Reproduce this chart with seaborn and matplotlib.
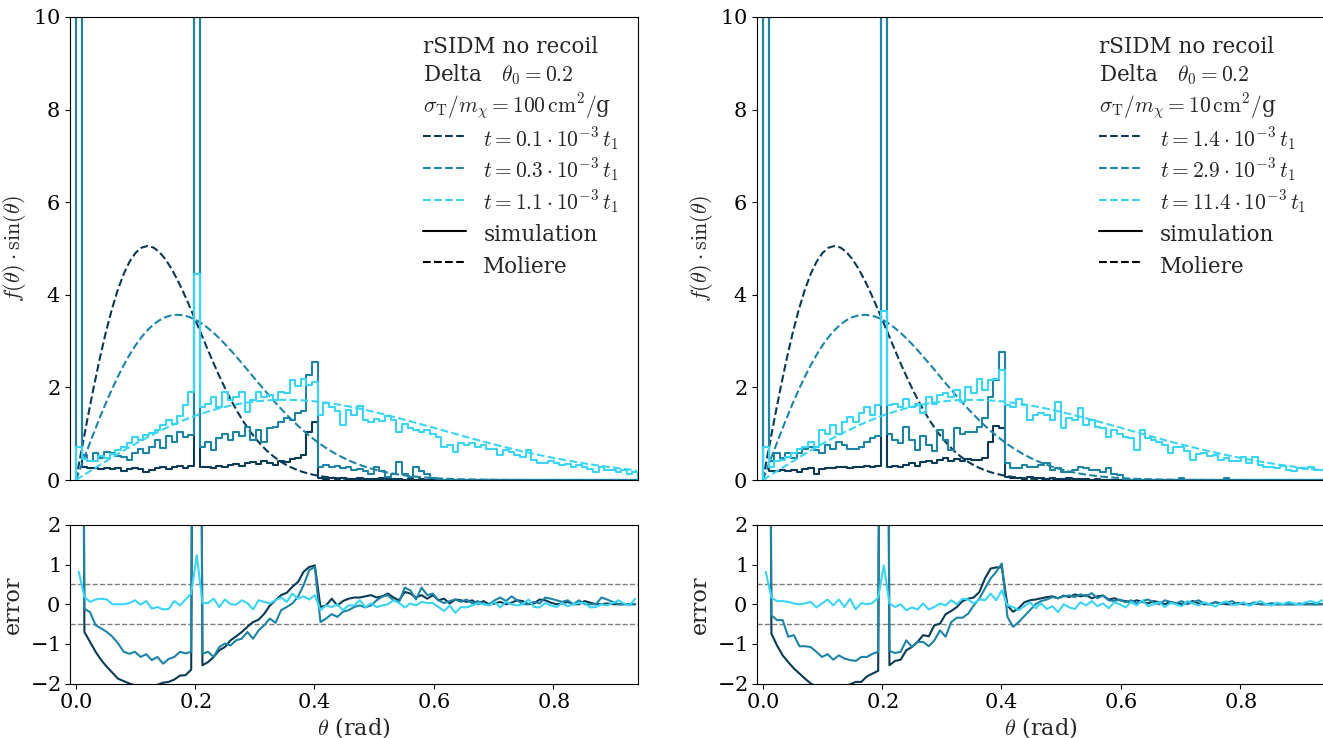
import numpy as np
import matplotlib
matplotlib.use("Agg")
import matplotlib.pyplot as plt
import seaborn as sns
from matplotlib.lines import Line2D

# simulation histogram binning (100 bins up to 0.3 pi)
edges = np.linspace(0, 0.3 * np.pi, 101)
centers = 0.5 * (edges[:-1] + edges[1:])
theta_fine = np.linspace(0, 0.94, 95)   # 0.01 rad grid for the narrow Moliere curves
theta_mol = np.linspace(0, 0.94, 48)    # 0.02 rad grid for the broad one

labels_left = [r"$t=0.1\cdot10^{-3}\,t_1$", r"$t=0.3\cdot10^{-3}\,t_1$", r"$t=1.1\cdot10^{-3}\,t_1$"]
labels_right = [r"$t=1.4\cdot10^{-3}\,t_1$", r"$t=2.9\cdot10^{-3}\,t_1$", r"$t=11.4\cdot10^{-3}\,t_1$"]

# ---- left column: sigma/m = 100 cm^2/g ----
hist_dark_l = ([40.0]
    + [0.27, 0.26, 0.25, 0.24, 0.26, 0.23, 0.25, 0.20, 0.23, 0.26, 0.24, 0.17, 0.22, 0.25, 0.28, 0.24, 0.28, 0.30, 0.26, 0.31]
    + [40.0]
    + [0.27, 0.28, 0.26, 0.30, 0.29, 0.33, 0.35, 0.31, 0.36, 0.38, 0.34, 0.40, 0.37, 0.33, 0.41, 0.38, 0.45, 0.47, 0.55, 1.04, 1.26]
    + [0.05, 0.03, 0.04, 0.02, 0.05, 0.03, 0.02, 0.04, 0.03, 0.02, 0.03, 0.05, 0.02, 0.03, 0.02, 0.01, 0.02, 0.01, 0.02, 0.01, 0.01]
    + [0.0] * 36)
hist_mid_l = ([40.0]
    + [0.54, 0.40, 0.58, 0.47, 0.61, 0.58, 0.52, 0.50, 0.43, 0.58, 0.68, 0.58, 0.72, 0.86, 0.70, 0.94, 0.83, 1.04, 0.93, 0.97]
    + [40.0]
    + [0.72, 0.83, 0.65, 0.90, 1.00, 0.86, 1.04, 0.94, 1.15, 0.86, 1.08, 0.83, 1.12, 1.15, 1.26, 1.33, 1.30, 1.44, 1.50, 2.27, 2.55]
    + [0.29, 0.32, 0.27, 0.30, 0.25, 0.27, 0.22, 0.24, 0.19, 0.14, 0.29, 0.19, 0.07, 0.14, 0.38, 0.14, 0.07, 0.29, 0.19, 0.14, 0.05]
    + [0.0] * 36)
hist_light_l = ([0.72]
    + [0.45, 0.40, 0.42, 0.52, 0.47, 0.56, 0.65, 0.72, 0.80, 0.92, 0.86, 0.98, 1.02, 1.08, 1.18, 1.30, 1.20, 1.38, 1.62, 1.90]
    + [4.45]
    + [1.58, 1.65, 1.80, 1.58, 1.91, 1.73, 1.80, 1.91, 1.47, 1.73, 1.91, 1.80, 1.84, 1.73, 1.91, 1.87, 2.16, 2.02, 2.19, 2.05, 2.12]
    + [1.40, 1.66, 1.58, 1.48, 1.19, 1.51, 1.40, 1.60, 1.30, 1.26, 1.31, 1.28, 1.38, 1.30, 1.04, 1.22, 1.12, 1.08, 1.04, 1.08,
       1.00, 0.93, 0.72, 0.76, 0.61, 0.80, 0.76, 0.79, 0.72, 0.76, 0.68, 0.68, 0.54, 0.65, 0.61, 0.54, 0.50, 0.65, 0.43, 0.37,
       0.36, 0.40, 0.37, 0.32, 0.34, 0.29, 0.32, 0.27, 0.23, 0.18, 0.27, 0.22, 0.22, 0.18, 0.22, 0.13, 0.18])

err_dark_l = ([30.0]
    + [-0.70, -0.95, -1.20, -1.41, -1.58, -1.73, -1.88, -1.94, -2.00, -2.05, -2.10, -2.12, -2.10, -2.03, -1.98, -1.96, -1.90, -1.80, -1.79, -1.65]
    + [30.0]
    + [-1.54, -1.46, -1.33, -1.16, -1.08, -0.91, -0.81, -0.70, -0.57, -0.45, -0.39, -0.24, -0.03, 0.10, 0.23, 0.29, 0.44, 0.56, 0.82, 0.94, 0.98]
    + [-0.07, -0.03, 0.14, -0.03, 0.08, 0.14, 0.17, 0.17, 0.20, 0.23, 0.17, 0.20, 0.27, 0.17, 0.10, 0.31, 0.27, 0.17]
    + [0.23, 0.14, 0.23, 0.10, 0.14, 0.02, 0.12, 0.10, 0.06, 0.10, 0.00, 0.08, 0.00, 0.02, 0.06, 0.00, 0.04, 0.10, 0.08, 0.00,
       0.02, 0.12, 0.10, 0.04, 0.00, 0.02, 0.06, 0.00, 0.00, 0.08, 0.04, 0.00, 0.00, 0.02, 0.00, 0.00, 0.00, 0.00, 0.00])
err_mid_l = ([30.0]
    + [-0.11, -0.20, -0.53, -0.61, -0.70, -0.82, -0.99, -1.20, -1.25, -1.20, -1.33, -1.26, -1.41, -1.33, -1.50, -1.38, -1.33, -1.20, -1.24, -1.20]
    + [30.0]
    + [-1.25, -1.20, -1.33, -1.08, -0.99, -1.04, -0.91, -0.87, -0.70, -0.87, -0.66, -0.53, -0.36, -0.47, -0.15, -0.07, 0.02, 0.19, 0.48, 0.86, 0.94]
    + [-0.45, -0.36, -0.25, -0.32, -0.19, -0.15, -0.07, -0.03, -0.08, -0.03, 0.10, 0.19, 0.23, 0.10, 0.06, 0.42, 0.35, 0.12, 0.42, 0.23,
       0.27, 0.10, 0.03, 0.08, 0.12, 0.06, 0.12, 0.02, 0.08, 0.00, 0.00, 0.10, 0.17, 0.08, 0.20, 0.10, 0.00, 0.00, 0.06, 0.02,
       0.17, 0.14, 0.10, 0.06, 0.10, 0.00, 0.10, 0.00, 0.00, 0.00, 0.17, 0.12, 0.06, 0.00, 0.00, 0.00, 0.00])
err_light_l = ([0.82]
    + [0.19, 0.06, 0.12, 0.14, 0.12, 0.00, 0.00, 0.00, 0.03, 0.10, -0.01, 0.08, -0.11, -0.07, -0.13, -0.12, 0.08, -0.03, 0.12, 0.27]
    + [1.24]
    + [0.03, 0.03, 0.14, -0.07, 0.12, 0.00, -0.01, 0.10, 0.03, -0.13, 0.10, 0.06, 0.02, 0.10, 0.17, 0.06, 0.27, 0.14, 0.20, 0.12, 0.23]
    + [-0.15, -0.03, -0.07, 0.00, -0.15, -0.03, -0.03, 0.10, -0.07, 0.02, -0.07, -0.03, 0.00, 0.10, 0.03, -0.08, 0.02, -0.03, 0.06, 0.03,
       0.03, -0.07, -0.17, -0.03, -0.22, -0.07, -0.08, -0.03, 0.02, 0.00, -0.03, 0.06, -0.08, 0.06, 0.00, -0.03, 0.00, 0.12, -0.07, -0.08,
       0.03, -0.03, -0.07, 0.03, -0.05, 0.00, 0.03, 0.03, -0.08, -0.07, 0.00, -0.03, 0.03, 0.10, 0.02, -0.03, 0.14])

# ---- right column: sigma/m = 10 cm^2/g ----
hist_dark_r = ([40.0]
    + [0.20, 0.19, 0.21, 0.19, 0.22, 0.18, 0.23, 0.25, 0.14, 0.24, 0.25, 0.26, 0.27, 0.28, 0.25, 0.27, 0.29, 0.30, 0.28, 0.31]
    + [40.0]
    + [0.28, 0.30, 0.27, 0.33, 0.36, 0.31, 0.39, 0.41, 0.37, 0.44, 0.48, 0.42, 0.46, 0.40, 0.45, 0.43, 0.44, 0.47, 0.83, 1.17, 1.13]
    + [0.06, 0.04, 0.05, 0.03, 0.06, 0.04, 0.05, 0.03, 0.04, 0.02, 0.03, 0.04, 0.02, 0.02, 0.03, 0.01, 0.02, 0.01, 0.01, 0.01, 0.01]
    + [0.0] * 36)
hist_mid_r = ([40.0]
    + [0.40, 0.58, 0.47, 0.58, 0.47, 0.58, 0.68, 0.72, 0.65, 0.58, 0.76, 0.68, 0.83, 0.76, 0.68, 0.68, 0.72, 0.83, 0.90, 0.95]
    + [40.0]
    + [1.00, 0.86, 0.79, 1.15, 0.86, 0.65, 0.94, 0.76, 0.63, 1.08, 0.86, 0.65, 1.12, 1.00, 1.04, 1.04, 1.15, 1.33, 1.80, 2.16, 2.77]
    + [0.36, 0.25, 0.25, 0.32, 0.29, 0.29, 0.32, 0.36, 0.22, 0.25, 0.18, 0.18, 0.22, 0.29, 0.25, 0.22, 0.22, 0.18, 0.25, 0.14, 0.10]
    + [0.0] * 10 + [0.05] + [0.0] * 7 + [0.04] + [0.0] * 17)
hist_light_r = ([0.72]
    + [0.29, 0.40, 0.43, 0.50, 0.58, 0.68, 0.72, 0.83, 0.72, 1.08, 1.00, 1.19, 1.00, 1.26, 1.37, 1.26, 1.44, 1.58, 1.40, 1.62]
    + [3.65]
    + [1.62, 1.65, 1.58, 1.76, 1.58, 1.65, 1.44, 1.80, 1.65, 1.83, 1.87, 1.80, 1.94, 1.69, 2.01, 1.87, 2.19, 1.94, 2.16, 2.19, 2.37]
    + [1.62, 1.58, 1.76, 1.62, 1.30, 1.40, 1.44, 1.40, 1.30, 1.69, 1.12, 1.33, 1.30, 1.55, 1.19, 1.30, 1.15, 1.12, 0.93, 1.08,
       1.00, 0.93, 0.90, 0.65, 1.08, 0.90, 0.86, 0.83, 0.76, 0.58, 0.72, 0.71, 0.63, 0.43, 0.56, 0.59, 0.52, 0.54, 0.43, 0.47,
       0.42, 0.40, 0.49, 0.36, 0.49, 0.32, 0.29, 0.27, 0.25, 0.30, 0.22, 0.20, 0.25, 0.23, 0.27, 0.22, 0.22])

err_dark_r = ([30.0]
    + [-0.74, -1.04, -1.29, -1.46, -1.62, -1.75, -1.88, -2.00, -2.08, -2.15, -2.18, -2.20, -2.15, -2.08, -2.02, -1.96, -1.96, -1.82, -1.75, -1.68]
    + [30.0]
    + [-1.54, -1.43, -1.40, -1.16, -1.08, -0.95, -0.78, -0.81, -0.53, -0.49, -0.25, -0.17, -0.07, 0.08, 0.14, 0.17, 0.31, 0.65, 0.90, 0.93, 0.93]
    + [-0.03, -0.19, -0.10, 0.05, 0.10, 0.12, 0.15, 0.18, 0.20, 0.15, 0.22, 0.18, 0.25, 0.20, 0.23, 0.15, 0.20, 0.22, 0.12, 0.15,
       0.10, 0.08, 0.05, 0.10, 0.06, 0.02, 0.08, 0.05, 0.00, 0.06, 0.02, 0.00, 0.04, 0.08, 0.02, 0.00, 0.00, 0.05, 0.02, 0.00,
       0.00, 0.03, 0.00, 0.00, 0.02, 0.00, 0.00, 0.00, 0.00, 0.00, 0.00, 0.00, 0.00, 0.00, 0.00, 0.00, 0.00])
err_mid_r = ([30.0]
    + [-0.28, -0.40, -0.40, -0.82, -0.78, -1.06, -1.06, -1.08, -1.20, -1.33, -1.26, -1.40, -1.29, -1.37, -1.41, -1.43, -1.33, -1.33, -1.25, -1.20]
    + [30.0]
    + [-1.18, -1.23, -1.20, -0.91, -1.08, -0.95, -0.95, -1.06, -0.91, -0.66, -0.82, -0.45, -0.34, -0.34, -0.24, -0.03, 0.14, 0.40, 0.65, 0.82, 1.03]
    + [-0.32, -0.57, -0.45, -0.30, -0.15, 0.00, 0.08, 0.12, 0.18, 0.15, 0.20, 0.22, 0.18, 0.25, 0.20, 0.28, 0.15, 0.22, 0.10, 0.08,
       0.12, 0.05, 0.10, 0.02, 0.08, 0.12, 0.05, 0.00, 0.10, 0.06, 0.02, 0.08, 0.00, 0.05, 0.10, 0.02, 0.00, 0.06, 0.00, 0.04,
       0.08, 0.00, 0.02, 0.00, 0.05, 0.00, 0.00, 0.03, 0.00, 0.00, 0.00, 0.00, 0.02, 0.00, 0.00, 0.00, 0.00])
err_light_r = ([0.82]
    + [0.17, 0.08, 0.08, 0.06, 0.02, 0.00, 0.02, 0.06, -0.08, 0.02, 0.12, -0.03, 0.12, -0.07, 0.14, -0.13, 0.03, 0.00, 0.03, 0.17]
    + [0.98]
    + [0.02, -0.07, 0.00, -0.15, -0.08, -0.13, 0.02, -0.13, -0.07, 0.02, -0.03, 0.10, 0.00, 0.14, 0.12, 0.02, 0.12, 0.10, 0.27, 0.10, 0.35]
    + [-0.03, -0.07, -0.15, -0.05, 0.05, -0.10, 0.02, -0.12, -0.05, -0.20, 0.00, -0.08, -0.12, 0.05, -0.03, 0.08, -0.05, 0.02, -0.10, 0.05,
       0.00, -0.08, 0.06, -0.03, 0.10, -0.05, 0.00, 0.05, -0.07, 0.03, 0.00, -0.05, 0.08, 0.02, -0.03, 0.05, 0.00, -0.06, 0.03, 0.07,
       -0.02, 0.00, 0.05, -0.04, 0.02, 0.08, 0.00, -0.03, 0.04, 0.00, 0.06, 0.02, -0.02, 0.05, 0.08, 0.03, 0.10])

# Moliere predictions (same shapes in both columns)
mol_dark = [0.0, 0.692, 1.370, 2.019, 2.628, 3.184, 3.677, 4.101, 4.449, 4.718, 4.907, 5.019, 5.054, 5.021,
            4.922, 4.769, 4.568, 4.328, 4.058, 3.767, 3.464, 3.154, 2.846, 2.544, 2.256, 1.982, 1.726, 1.492,
            1.278, 1.086, 0.915, 0.765, 0.635, 0.522, 0.426, 0.345, 0.278, 0.222, 0.175, 0.138, 0.107, 0.083,
            0.064, 0.049, 0.037, 0.028, 0.021, 0.015, 0.011, 0.008, 0.006, 0.004, 0.003, 0.002, 0.001] + [0.0] * 40
mol_mid = [0.0, 0.345, 0.687, 1.022, 1.346, 1.657, 1.951, 2.225, 2.478, 2.707, 2.910, 3.087, 3.237, 3.358,
           3.451, 3.517, 3.555, 3.568, 3.556, 3.521, 3.464, 3.388, 3.295, 3.187, 3.066, 2.934, 2.794, 2.647,
           2.496, 2.342, 2.187, 2.034, 1.884, 1.735, 1.592, 1.455, 1.323, 1.199, 1.081, 0.972, 0.869, 0.774,
           0.687, 0.607, 0.534, 0.469, 0.409, 0.356, 0.308, 0.266, 0.229, 0.196, 0.167, 0.142, 0.120, 0.102,
           0.085, 0.071, 0.060, 0.050, 0.041, 0.034, 0.028, 0.023, 0.019, 0.015, 0.012, 0.010, 0.008, 0.006,
           0.005, 0.004, 0.003, 0.0025, 0.002, 0.0015] + [0.0] * 19
mol_light = [0.0, 0.163, 0.324, 0.483, 0.636, 0.784, 0.924, 1.055, 1.177, 1.287, 1.387, 1.474, 1.548, 1.610,
             1.660, 1.696, 1.720, 1.731, 1.731, 1.720, 1.700, 1.669, 1.630, 1.583, 1.530, 1.471, 1.406, 1.339,
             1.271, 1.199, 1.128, 1.055, 0.983, 0.910, 0.841, 0.773, 0.709, 0.646, 0.588, 0.531, 0.479, 0.430,
             0.385, 0.343, 0.305, 0.270, 0.238, 0.208]

colors = ["#0a3a55", "#1d84a6", "#3ad4f5"]

sns.set_style("ticks")
plt.rcParams["font.family"] = ["DejaVu Serif"]
plt.rcParams["mathtext.fontset"] = "cm"
plt.rcParams["axes.formatter.use_mathtext"] = True
plt.rcParams["axes.edgecolor"] = "black"
plt.rcParams["xtick.color"] = "black"
plt.rcParams["ytick.color"] = "black"


def step_xy(values):
    # closed step outline like histtype='step'
    x = np.concatenate([[edges[0]], edges])
    y = np.concatenate([[0.0], values, [0.0]])
    return x, y


def draw_column(ax_top, ax_err, hists, errs, labels, sigma_text):
    mols = [(theta_fine, mol_dark), (theta_fine, mol_mid), (theta_mol, mol_light)]
    for h, (tm, m), c in zip(hists, mols, colors):
        x, y = step_xy(np.array(h))
        sns.lineplot(x=x, y=y, ax=ax_top, color=c, linewidth=1.5,
                     drawstyle="steps-post", estimator=None, sort=False)
        sns.lineplot(x=tm, y=m, ax=ax_top, color=c, linewidth=1.5,
                     linestyle="--", estimator=None, sort=False)
    ax_top.set_xlim(-0.01, 0.3 * np.pi)
    ax_top.set_ylim(0, 10)
    ax_top.set_ylabel(r"$f(\theta)\cdot\sin(\theta)$", fontsize=16)
    ax_top.set_xlabel("")
    ax_top.tick_params(axis="y", labelsize=15)
    ax_top.tick_params(axis="x", bottom=False, labelbottom=False)

    handles = [Line2D([], [], color=c, ls="--", lw=1.5) for c in colors]
    handles += [Line2D([], [], color="black", lw=1.5),
                Line2D([], [], color="black", ls="--", lw=1.5)]
    title = "rSIDM no recoil\nDelta   $\\theta_0=0.2$\n" + sigma_text
    ax_top.legend(handles, labels + ["simulation", "Moliere"], title=title,
                  loc="upper right", frameon=False, alignment="left",
                  fontsize=15.5, title_fontsize=15.5,
                  handleheight=1.6, labelspacing=0.17)

    ax_err.axhline(0.5, color="gray", ls="--", lw=1, zorder=1)
    ax_err.axhline(-0.5, color="gray", ls="--", lw=1, zorder=1)
    for e, c in zip(errs, colors):
        sns.lineplot(x=centers, y=e, ax=ax_err, color=c, linewidth=1.5,
                     estimator=None, sort=False)
    ax_err.set_xlim(-0.01, 0.3 * np.pi)
    ax_err.set_ylim(-2, 2)
    ax_err.set_yticks([-2, -1, 0, 1, 2])
    ax_err.set_xticks([0.0, 0.2, 0.4, 0.6, 0.8])
    ax_err.set_ylabel("error", fontsize=16)
    ax_err.set_xlabel(r"$\theta$ (rad)", fontsize=16, labelpad=2)
    ax_err.tick_params(labelsize=15)


fig = plt.figure(figsize=(13.23, 7.38), dpi=100)
W, H = 1323, 738
ax_tl = fig.add_axes([70 / W, 1 - 480 / H, 568 / W, 463 / H])
ax_bl = fig.add_axes([70 / W, 1 - 683.5 / H, 568 / W, 158.5 / H])
ax_tr = fig.add_axes([757 / W, 1 - 480 / H, 568 / W, 463 / H])
ax_br = fig.add_axes([757 / W, 1 - 683.5 / H, 568 / W, 158.5 / H])

draw_column(ax_tl, ax_bl, [hist_dark_l, hist_mid_l, hist_light_l],
            [err_dark_l, err_mid_l, err_light_l],
            labels_left, r"$\sigma_\mathrm{T}/m_\chi=100\,\mathrm{cm}^2/$g")
draw_column(ax_tr, ax_br, [hist_dark_r, hist_mid_r, hist_light_r],
            [err_dark_r, err_mid_r, err_light_r],
            labels_right, r"$\sigma_\mathrm{T}/m_\chi=10\,\mathrm{cm}^2/$g")

fig.savefig("out.png", dpi=100)
